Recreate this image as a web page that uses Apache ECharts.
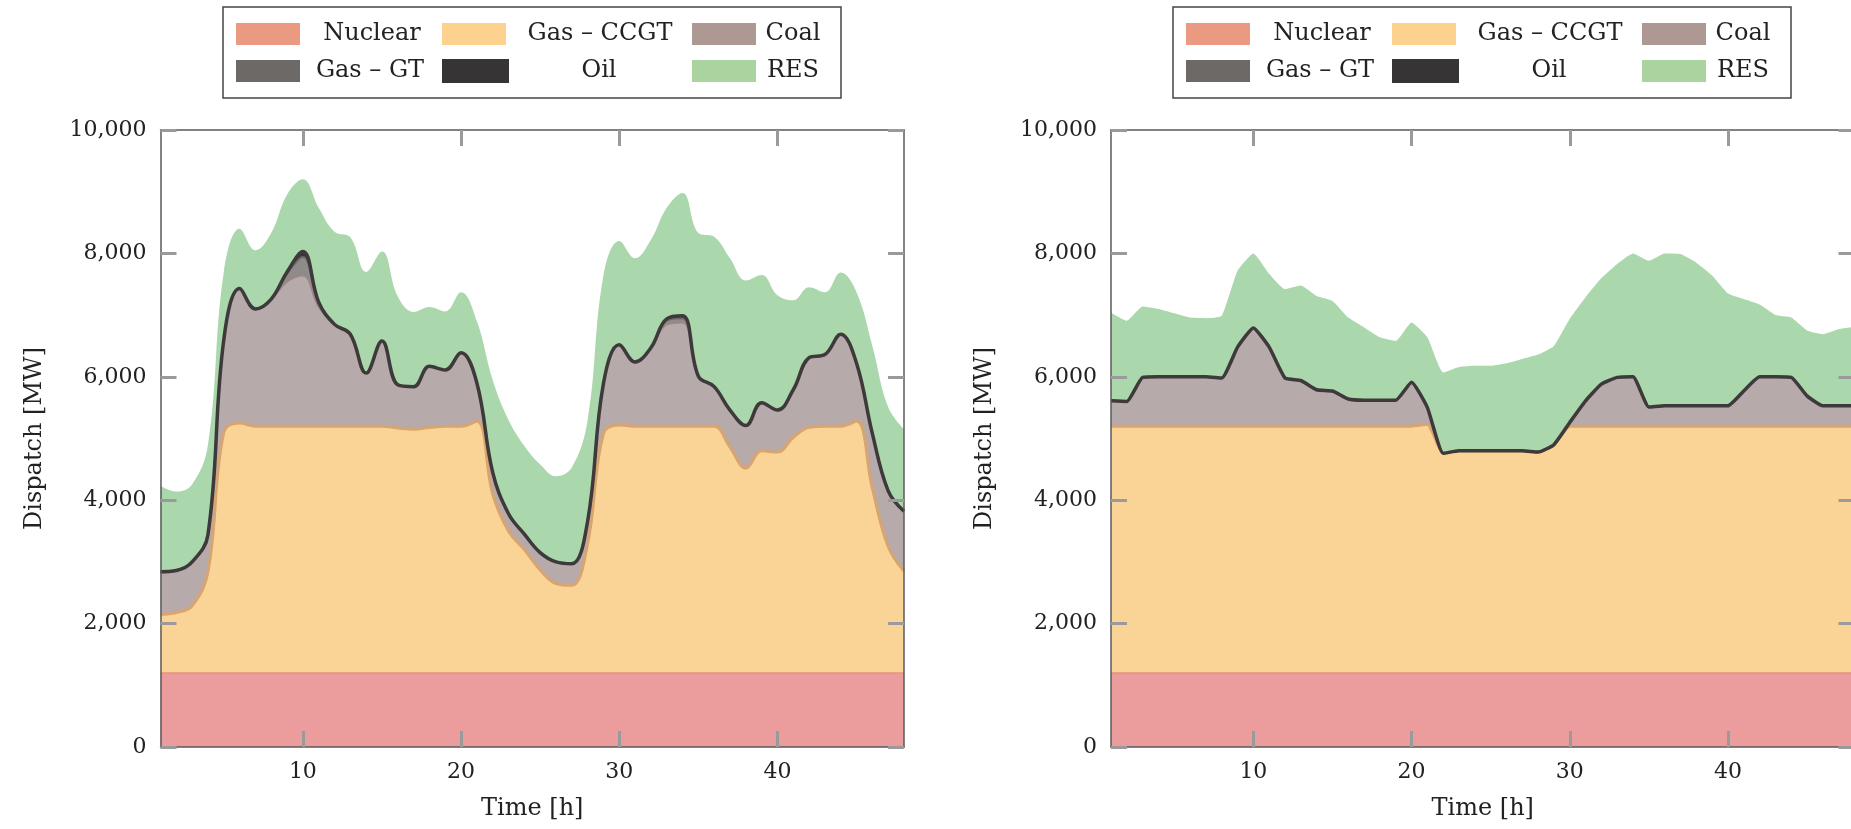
<!DOCTYPE html>
<html>
<head>
<meta charset="utf-8">
<script src="https://cdn.jsdelivr.net/npm/echarts@6/dist/echarts.min.js"></script>
<style>
html,body{margin:0;padding:0;background:#fff;}
#c{width:1851px;height:829px;}
</style>
</head>
<body>
<div id="c"></div>
<script>
// ---------------- data ----------------
const hours = [1,2,3,4,5,6,7,8,9,10,11,12,13,14,15,16,17,18,19,20,21,22,23,24,
               25,26,27,28,29,30,31,32,33,34,35,36,37,38,39,40,41,42,43,44,45,46,47,48];
const seriesNames = ['Nuclear', 'Gas – CCGT', 'Coal', 'Gas – GT', 'Oil', 'RES'];
const yTickValues = [0, 2000, 4000, 6000, 8000, 10000];
const xTitle = 'Time [h]';
const yTitle = 'Dispatch [MW]';

// left chart (MW per technology, stacked)
const nuclearA = [1200,1200,1200,1200,1200,1200,1200,1200,1200,1200,1200,1200,1200,1200,1200,1200,1200,1200,1200,1200,1200,1200,1200,1200,
                  1200,1200,1200,1200,1200,1200,1200,1200,1200,1200,1200,1200,1200,1200,1200,1200,1200,1200,1200,1200,1200,1200,1200,1200];
const ccgtA = [950,980,1090,1640,3900,4050,4000,4000,4000,4000,
               4000,4000,4000,4000,4000,3970,3950,3980,4000,4000,
               4080,2900,2300,2000,1670,1450,1420,2100,3880,4020,
               4000,4000,4000,4000,4000,4000,3660,3320,3600,3580,
               3820,3980,4000,4000,4080,2990,2050,1650];
const coalA = [690,680,710,600,1500,2180,1900,2060,2340,2440,
               1930,1650,1490,860,1380,700,690,990,910,1190,
               620,350,280,250,280,350,350,360,810,1300,
               1040,1270,1650,1680,810,640,600,690,780,680,
               770,1130,1160,1490,940,890,900,970];
const gtA = [0,0,0,0,0,0,0,0,130,300,
             60,0,0,0,0,0,0,0,0,0,
             0,0,0,0,0,0,0,0,0,0,
             0,0,60,70,0,0,0,0,0,0,
             0,0,0,0,0,0,0,0];
const oilA = [0,0,0,0,0,0,0,0,30,90,
              20,0,0,0,0,0,0,0,0,0,
              0,0,0,0,0,0,0,0,0,0,
              0,0,30,40,0,0,0,0,0,0,
              0,0,0,0,0,0,0,0];
const resA = [1390,1280,1260,1460,1100,970,950,1070,1250,1170,
              1530,1500,1570,1640,1450,1430,1210,960,950,980,
              1000,1500,1520,1430,1430,1390,1560,1640,1750,1680,
              1680,1750,1800,1990,2320,2430,2460,2350,2070,1860,
              1450,1140,1010,1000,1150,1420,1360,1330];

// right chart
const nuclearB = [1200,1200,1200,1200,1200,1200,1200,1200,1200,1200,1200,1200,1200,1200,1200,1200,1200,1200,1200,1200,1200,1200,1200,1200,
                  1200,1200,1200,1200,1200,1200,1200,1200,1200,1200,1200,1200,1200,1200,1200,1200,1200,1200,1200,1200,1200,1200,1200,1200];
const ccgtB = [4000,4000,4000,4000,4000,4000,4000,4000,4000,4000,
               4000,4000,4000,4000,4000,4000,4000,4000,4000,4000,
               4030,3560,3600,3600,3600,3600,3600,3580,3700,4000,
               4000,4000,4000,4000,4000,4000,4000,4000,4000,4000,
               4000,4000,4000,4000,4000,4000,4000,4000];
const coalB = [410,400,790,800,800,800,800,780,1280,1590,
               1280,780,740,590,570,440,420,420,420,710,
               270,0,0,0,0,0,0,0,0,60,
               410,680,790,800,310,330,330,330,330,330,
               570,800,800,790,490,330,330,330];
const gtB = [0,0,0,0,0,0,0,0,0,0,0,0,0,0,0,0,0,0,0,0,0,0,0,0,
             0,0,0,0,0,0,0,0,0,0,0,0,0,0,0,0,0,0,0,0,0,0,0,0];
const oilB = [0,0,0,0,0,0,0,0,0,0,0,0,0,0,0,0,0,0,0,0,0,0,0,0,
              0,0,0,0,0,0,0,0,0,0,0,0,0,0,0,0,0,0,0,0,0,0,0,0];
const resB = [1430,1310,1150,1100,1030,960,950,1010,1240,1210,
              1190,1440,1540,1520,1460,1320,1180,1020,960,970,
              1140,1310,1360,1380,1380,1420,1490,1580,1600,1680,
              1680,1720,1840,2000,2370,2470,2460,2320,2110,1820,
              1490,1170,1000,970,1060,1160,1240,1280];

// ---------------- styles ----------------
const FONT = '"DejaVu Serif", "Liberation Serif", serif';
const TXT = '#222';
const areaColors = ['#EB9C9C', '#FAD497', '#B7AAAA', '#8F8B8B', '#3A3637', '#ABD7AC'];
const lineColors = ['#E9917B', '#D8A470', '#9A8787', '#6F6B6B', '#3E393A', '#ABD7AC'];
const lineWidths = [1.5, 3, 2, 2, 3.5, 0];
const legendColors = ['#EA9A80', '#FDD28E', '#AD9894', '#6C6967', '#373435', '#ABD3A0'];

const GRID_LEFT = [160.5, 1111];
const GRID_TOP = 130, GRID_W = 743.5, GRID_H = 617;

const isDecade = (i, v) => Number(v) % 10 === 0;

function makeXAxes(gi) {
  const base = {
    type: 'category', gridIndex: gi, data: hours, boundaryGap: false, z: 10,
    axisLine: { show: true, onZero: false, lineStyle: { color: '#5a5a5a', width: 1.5 } },
    axisTick: { show: true, inside: true, length: 16, interval: isDecade,
                lineStyle: { color: '#9a9a9a', width: 3 } },
    splitLine: { show: false }
  };
  return [
    Object.assign({}, base, {
      position: 'bottom',
      axisLabel: { interval: isDecade, fontFamily: FONT, fontSize: 22, color: TXT, margin: 14 },
      name: xTitle, nameLocation: 'middle', nameGap: 50,
      nameTextStyle: { fontFamily: FONT, fontSize: 24, color: TXT }
    }),
    Object.assign({}, base, { position: 'top', axisLabel: { show: false } })
  ];
}
function makeYAxes(gi) {
  const base = {
    type: 'value', gridIndex: gi, min: yTickValues[0], max: yTickValues[yTickValues.length - 1],
    interval: yTickValues[1] - yTickValues[0], z: 10,
    axisLine: { show: true, lineStyle: { color: '#5a5a5a', width: 1.5 } },
    axisTick: { show: true, inside: true, length: 16, lineStyle: { color: '#9a9a9a', width: 3 } },
    splitLine: { show: false }
  };
  return [
    Object.assign({}, base, {
      position: 'left',
      axisLabel: { fontFamily: FONT, fontSize: 22, color: TXT, margin: 14,
                   formatter: v => v.toLocaleString('en-US') },
      name: yTitle, nameLocation: 'middle', nameGap: 114, nameRotate: 90,
      nameTextStyle: { fontFamily: FONT, fontSize: 24, color: TXT }
    }),
    Object.assign({}, base, { position: 'right', axisLabel: { show: false } })
  ];
}

// filled stacked areas (no outlines), then the outlines as a second stack on top
function makeSeries(gi, arrays, smooth) {
  const areas = arrays.map((d, k) => ({
    name: seriesNames[k] + (gi ? ' ' : ''),
    type: 'line', stack: 'A' + gi, xAxisIndex: gi * 2, yAxisIndex: gi * 2,
    data: d, smooth: smooth, showSymbol: false, symbol: 'none', z: 2,
    lineStyle: { width: 0, opacity: 0 },
    areaStyle: { color: areaColors[k], opacity: 1 },
    emphasis: { disabled: true }, silent: true
  }));
  const lines = arrays.slice(0, 5).map((d, k) => ({
    name: seriesNames[k] + ' line' + gi,
    type: 'line', stack: 'L' + gi, xAxisIndex: gi * 2, yAxisIndex: gi * 2,
    data: d, smooth: smooth, showSymbol: false, symbol: 'none', z: 3 + k,
    lineStyle: { color: lineColors[k], width: lineWidths[k] },
    emphasis: { disabled: true }, silent: true
  }));
  return areas.concat(lines);
}

function makeLegend(dx) {
  const els = [];
  els.push({ type: 'rect', shape: { x: 223 + dx, y: 7, width: 618, height: 91 },
             style: { fill: '#fff', stroke: '#444', lineWidth: 1.5 }, z: 100 });
  const sw = [
    [236, 23, 64, 22], [442, 23, 64, 22], [692, 23, 64, 22],
    [236, 60, 64, 22], [442, 59, 67, 24], [692, 60, 64, 22]
  ];
  const tx = [[372, 34], [600, 34], [793, 34], [370, 71], [599, 71], [793, 71]];
  for (let k = 0; k < 6; k++) {
    els.push({ type: 'rect', shape: { x: sw[k][0] + dx, y: sw[k][1], width: sw[k][2], height: sw[k][3] },
               style: { fill: legendColors[k] }, z: 101 });
    els.push({ type: 'text', x: tx[k][0] + dx, y: tx[k][1], z: 101,
               style: { text: seriesNames[k], fontFamily: FONT, fontSize: 24, fill: TXT,
                        align: 'center', verticalAlign: 'middle' } });
  }
  return els;
}

const chart = echarts.init(document.getElementById('c'), null, { renderer: 'canvas' });
chart.setOption({
  backgroundColor: '#fff',
  animation: false,
  grid: GRID_LEFT.map(l => ({ left: l, top: GRID_TOP, width: GRID_W, height: GRID_H,
                              containLabel: false, outerBoundsMode: 'none' })),
  xAxis: [].concat(makeXAxes(0), makeXAxes(1)),
  yAxis: [].concat(makeYAxes(0), makeYAxes(1)),
  series: [].concat(
    makeSeries(0, [nuclearA, ccgtA, coalA, gtA, oilA, resA], 0.4),
    makeSeries(1, [nuclearB, ccgtB, coalB, gtB, oilB, resB], 0.15)
  ),
  graphic: [].concat(makeLegend(0), makeLegend(950))
});
</script>
</body>
</html>
